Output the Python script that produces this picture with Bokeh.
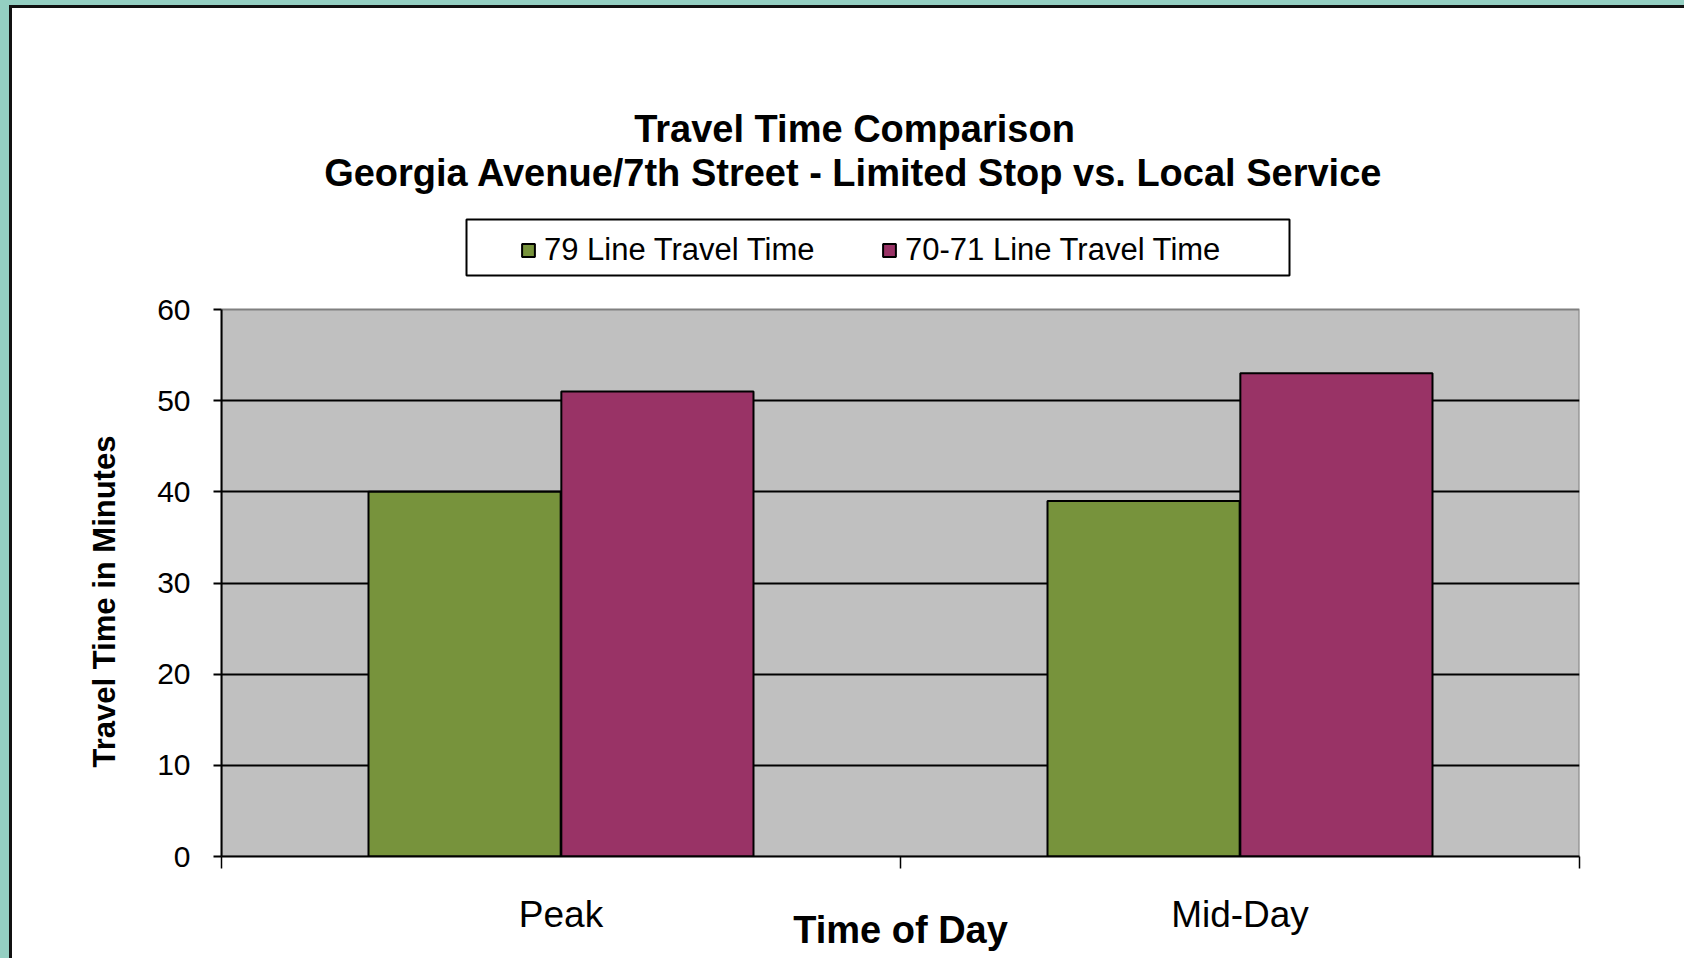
from bokeh.plotting import figure
from bokeh.models import (Range1d, FixedTicker, ColumnDataSource, Legend, LegendItem,
                          Label, BoxAnnotation, Title)
from bokeh.embed import file_html
from bokeh.resources import INLINE

# ---------------- data ----------------
categories = ["Peak", "Mid-Day"]
series_names = ["79 Line Travel Time", "70-71 Line Travel Time"]
line79 = [40, 39]
line7071 = [51, 53]
y_ticks = [0, 10, 20, 30, 40, 50, 60]
title_lines = ["Travel Time Comparison",
               "Georgia Avenue/7th Street - Limited Stop vs. Local Service"]
x_title = "Time of Day"
y_title = "Travel Time in Minutes"

colors = ["#77933C", "#993366"]
FONT = "Liberation Sans"

# ---------------- layout (canvas px) ----------------
W, H = 1676, 954
MB_LEFT, MB_RIGHT, MB_TOP, MB_BOTTOM = 209, 109, 0, 106
FRAME_H = H - MB_TOP - MB_BOTTOM          # whole frame height
PLOT_H = 547                               # height of the 0..60 chart area
y_max = y_ticks[-1]
y_top = y_max * FRAME_H / PLOT_H           # frame extends above the chart area

p = figure(width=W, height=H, output_backend="svg", toolbar_location=None, title=None,
           x_range=Range1d(0.5, len(categories) + 0.5), y_range=Range1d(0, y_top),
           min_border_left=MB_LEFT, min_border_right=MB_RIGHT, min_border_top=MB_TOP,
           min_border_bottom=MB_BOTTOM,
           styles={"border-left": "3px solid #111111", "border-top": "3px solid #111111",
                   "background-color": "white"})
p.background_fill_color = "white"
p.border_fill_color = "white"
p.outline_line_color = None

# grey chart area 0..60
p.add_layout(BoxAnnotation(bottom=0, top=y_max, fill_color="#C0C0C0", fill_alpha=1.0,
                           line_color="#808080", line_alpha=1.0, line_width=2,
                           level="image"))

xpos = [i + 1 for i in range(len(categories))]
off = 0.142
bw = 0.283
src = ColumnDataSource(dict(
    x1=[x - off for x in xpos], x2=[x + off for x in xpos],
    y1=line79, y2=line7071))
r1 = p.vbar(x="x1", top="y1", width=bw, source=src, fill_color=colors[0],
            line_color="black", line_width=2)
r2 = p.vbar(x="x2", top="y2", width=bw, source=src, fill_color=colors[1],
            line_color="black", line_width=2)

# grid
p.xgrid.visible = False
p.ygrid.ticker = FixedTicker(ticks=y_ticks[1:-1])
p.ygrid.grid_line_color = "black"
p.ygrid.grid_line_width = 2

# y axis
ya = p.yaxis[0]
ya.bounds = (0, y_max)
ya.ticker = FixedTicker(ticks=y_ticks)
ya.axis_line_color = "black"
ya.axis_line_width = 2
ya.major_tick_out = 8
ya.major_tick_in = 0
ya.major_tick_line_width = 2
ya.minor_tick_line_color = None
ya.major_label_text_font = FONT
ya.major_label_text_font_size = "30px"
ya.major_label_text_color = "black"
ya.major_label_standoff = 23

# y axis title, centred on the 0..60 chart area (left panel, outside the axis)
p.add_layout(Title(text=y_title, align="left", offset=89, standoff=66,
                   text_font=FONT, text_font_style="bold", text_font_size="31px",
                   text_color="black"), "left")

# x axis
xa = p.xaxis[0]
xa.ticker = FixedTicker(ticks=xpos, minor_ticks=[x - 0.5 for x in xpos] + [xpos[-1] + 0.5])
xa.major_label_overrides = {x: c for x, c in zip(xpos, categories)}
xa.axis_line_color = "black"
xa.axis_line_width = 2
xa.major_tick_line_color = None
xa.major_tick_out = 0
xa.major_tick_in = 0
xa.minor_tick_out = 12
xa.minor_tick_in = 0
xa.minor_tick_line_color = "black"
xa.minor_tick_line_width = 1.5
xa.major_label_text_font = FONT
xa.major_label_text_font_size = "37px"
xa.major_label_text_color = "black"
xa.major_label_standoff = 25
xa.axis_label = x_title
xa.axis_label_text_font = FONT
xa.axis_label_text_font_style = "bold"
xa.axis_label_text_font_size = "38px"
xa.axis_label_text_color = "black"
xa.axis_label_standoff = -29

# title lines (screen units from frame bottom-left)
for txt, x, y in [(title_lines[0], 633, 728), (title_lines[1], 632, 684)]:
    p.add_layout(Label(x=x, y=y, x_units="screen", y_units="screen", text=txt,
                       text_font=FONT, text_font_style="bold", text_font_size="38px",
                       text_align="center", text_baseline="alphabetic",
                       text_color="black"))

# legend frame box + legend
p.add_layout(BoxAnnotation(left=245, right=1068, bottom=581, top=637,
                           left_units="screen", right_units="screen",
                           top_units="screen", bottom_units="screen",
                           fill_color="white", fill_alpha=1.0,
                           line_color="black", line_alpha=1.0, line_width=2))
legend = Legend(items=[LegendItem(label=series_names[0], renderers=[r1]),
                       LegendItem(label=series_names[1], renderers=[r2])],
                orientation="horizontal", location=(299, 588),
                padding=10, margin=0, spacing=17,
                glyph_width=16, glyph_height=16, label_standoff=8,
                label_width=320, label_height=36,
                label_text_font=FONT, label_text_font_size="31px",
                label_text_color="black",
                border_line_color=None, background_fill_alpha=0)
p.add_layout(legend, "center")

html = file_html(p, INLINE)
css = ("<style>html, body { background-color: #94cfc2 !important; margin: 0 !important; }"
       " body { padding: 5px 0 0 9px !important; overflow: hidden; }</style>")
html = html.replace("</head>", css + "</head>", 1)
open("out.html", "w").write(html)
